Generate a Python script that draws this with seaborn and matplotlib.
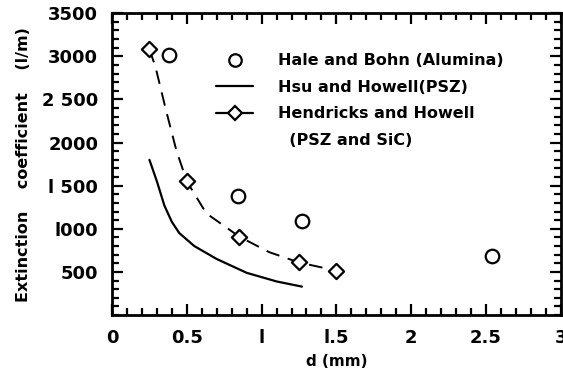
import matplotlib
matplotlib.use("Agg")
import matplotlib.pyplot as plt
from matplotlib.lines import Line2D
from matplotlib.ticker import MultipleLocator
import seaborn as sns

# Hale and Bohn (Alumina) - open circles
hale_d = [0.38, 0.84, 1.27, 2.54]
hale_k = [3020, 1380, 1090, 690]

# Hsu and Howell (PSZ) - solid curve
hsu_d = [0.25, 0.30, 0.35, 0.40, 0.45, 0.55, 0.70, 0.90, 1.10, 1.27]
hsu_k = [1800, 1550, 1270, 1080, 950, 800, 650, 490, 390, 330]

# Hendricks and Howell (PSZ and SiC) - diamonds + dashed curve
hend_d = [0.25, 0.50, 0.85, 1.25, 1.50]
hend_k = [3080, 1550, 910, 610, 515]
hend_curve_d = [0.25, 0.29, 0.36, 0.43, 0.50, 0.63, 0.85, 1.05, 1.25, 1.50]
hend_curve_k = [3080, 2880, 2380, 1910, 1550, 1180, 910, 730, 610, 515]

xticks = [0, 0.5, 1, 1.5, 2, 2.5, 3]
xticklabels = ["0", "0.5", "l", "l.5", "2", "2.5", "3"]
yticks = [500, 1000, 1500, 2000, 2500, 3000, 3500]
yticklabels = ["500", "l000", "l 500", "2000", "2 500", "3000", "3500"]

sns.set_style("ticks")
plt.rcParams["font.family"] = ["DejaVu Sans"]
plt.rcParams["font.weight"] = "bold"
for key in ["text.color", "axes.labelcolor", "xtick.color", "ytick.color", "axes.edgecolor"]:
    plt.rcParams[key] = "black"

fig = plt.figure(figsize=(5.63, 3.76), dpi=100)
ax = fig.add_axes([0.199, 0.162, 0.797, 0.803])

sns.lineplot(x=hsu_d, y=hsu_k, ax=ax, color="black", lw=1.6, sort=False)
sns.lineplot(x=hend_curve_d, y=hend_curve_k, ax=ax, color="black", lw=1.4,
             sort=False, linestyle=(0, (7, 4.5)))
sns.scatterplot(x=hend_d, y=hend_k, ax=ax, marker="D", s=60,
                facecolor="white", edgecolor="black", linewidth=1.6, zorder=5)
sns.scatterplot(x=hale_d, y=hale_k, ax=ax, marker="o", s=95,
                facecolor="white", edgecolor="black", linewidth=1.6, zorder=5)

ax.set_xlim(0, 3)
ax.set_ylim(0, 3500)
ax.set_xticks(xticks)
ax.set_xticklabels(xticklabels, fontsize=13, fontweight="bold")
ax.set_yticks(yticks)
ax.set_yticklabels(yticklabels, fontsize=13, fontweight="bold")
ax.xaxis.set_minor_locator(MultipleLocator(0.1))
ax.yaxis.set_minor_locator(MultipleLocator(100))
ax.tick_params(which="both", direction="in", top=True, right=True, width=1.6)
ax.tick_params(which="major", length=8, pad=10)
ax.tick_params(which="minor", length=5)
for sp in ax.spines.values():
    sp.set_linewidth(2)

ax.set_xlabel("d (mm)", fontsize=11, fontweight="bold", labelpad=5)
ax.set_ylabel("Extinction    coefficient    (l/m)", fontsize=11.5,
              fontweight="bold", labelpad=8)

handles = [
    Line2D([], [], marker="o", color="black", linestyle="none",
           markerfacecolor="white", markersize=9, markeredgewidth=1.6),
    Line2D([], [], color="black", lw=1.6),
    Line2D([], [], marker="D", color="black", lw=1.6,
           markerfacecolor="white", markersize=7, markeredgewidth=1.6),
    Line2D([], [], linestyle="none"),
]
labels = ["Hale and Bohn (Alumina)", "Hsu and Howell(PSZ)",
          "Hendricks and Howell", "  (PSZ and SiC)"]
leg = ax.legend(handles, labels, loc="upper left", bbox_to_anchor=(0.2, 0.915),
                frameon=False, fontsize=11.5, handlelength=2.3,
                labelspacing=0.72, handletextpad=1.6)
for t in leg.get_texts():
    t.set_fontweight("bold")

fig.savefig("out.png", dpi=100)
